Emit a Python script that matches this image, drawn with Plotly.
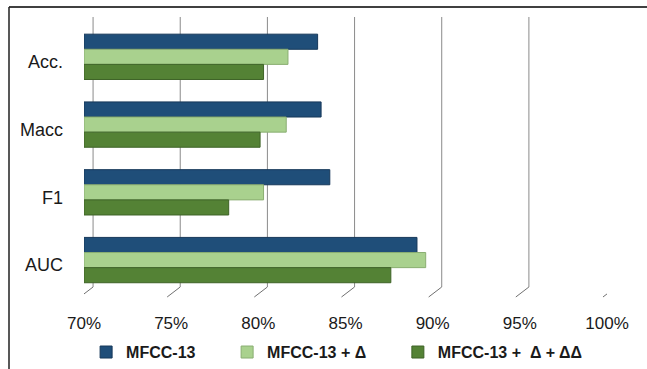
import plotly.graph_objects as go

# Metrics shown on the category axis, top to bottom
metrics = ["Acc.", "Macc", "F1", "AUC"]

# Scores (%) for each feature set
mfcc13 = [83.4, 83.6, 84.1, 89.1]
mfcc13_d = [81.7, 81.6, 80.3, 89.6]
mfcc13_d_dd = [80.3, 80.1, 78.3, 87.6]

series_names = ["MFCC-13", "MFCC-13 + Δ", "MFCC-13 +  Δ + ΔΔ"]
series_colors = ["#1F4E79", "#A9D18E", "#548235"]
edge_colors = ["#16385A", "#8AAE72", "#3E6327"]

x_ticks = [70, 75, 80, 85, 90, 95, 100]
x_tick_text = ["70%", "75%", "80%", "85%", "90%", "95%", "100%"]

BASE = 70
BAR_W = 0.223          # bar thickness in category units
GROUP_TOP = -0.409     # first bar offset (axis is reversed: negative = up)
PAD = "\u00a0" * 6     # spacing between legend entries

fig = go.Figure()
for i, (name, vals, col, edge) in enumerate(
        zip(series_names, [mfcc13, mfcc13_d, mfcc13_d_dd], series_colors, edge_colors)):
    fig.add_trace(go.Bar(
        y=metrics, x=[v - BASE for v in vals], base=BASE, orientation="h",
        name=name + (PAD if i < 2 else ""),
        width=BAR_W, offset=GROUP_TOP + i * BAR_W,
        marker=dict(color=col, line=dict(color=edge, width=1)),
    ))

shapes = []
# vertical gridlines standing on the back wall, with oblique floor feet
for t in x_ticks:
    shapes.append(dict(type="line", xref="x", yref="paper", layer="below",
                       x0=t + 0.52, x1=t + 0.52, y0=0.0443, y1=1.0406,
                       line=dict(color="#8a8a8a", width=1)))
    shapes.append(dict(type="line", xref="x", yref="paper", layer="below",
                       x0=t + 0.52, x1=t - 0.23, y0=0.0443, y1=0.0074,
                       line=dict(color="#707070", width=1)))
# frame lines of the chart box
shapes.append(dict(type="line", xref="paper", yref="paper", x0=-0.1434, x1=1.2,
                   y0=1.0775, y1=1.0775, line=dict(color="#404040", width=2)))
shapes.append(dict(type="line", xref="paper", yref="paper", x0=-0.1434, x1=-0.1434,
                   y0=1.0775, y1=-0.3, line=dict(color="#202020", width=1.5)))

fig.update_layout(
    template="none",
    width=647, height=369,
    margin=dict(l=84, r=40, t=28, b=70, autoexpand=False),
    paper_bgcolor="white", plot_bgcolor="white",
    barmode="overlay",
    font=dict(family="Liberation Sans, Arial, sans-serif", color="#1a1a1a"),
    xaxis=dict(range=[70, 100], tickvals=x_ticks, ticktext=x_tick_text,
               showgrid=False, zeroline=False, showline=False, automargin=False,
               tickfont=dict(size=17), ticks="", ticklabelstandoff=12),
    yaxis=dict(autorange="reversed", showgrid=False, showline=False, ticks="",
               automargin=False, tickfont=dict(size=18), ticklabelstandoff=20),
    legend=dict(orientation="h", x=0.483, xanchor="center", y=-0.196,
                yanchor="middle", traceorder="normal", bgcolor="rgba(0,0,0,0)",
                font=dict(size=16, family="Liberation Sans, Arial, sans-serif",
                          weight="bold")),
    shapes=shapes,
    showlegend=True,
)

fig.write_html("out.html")
